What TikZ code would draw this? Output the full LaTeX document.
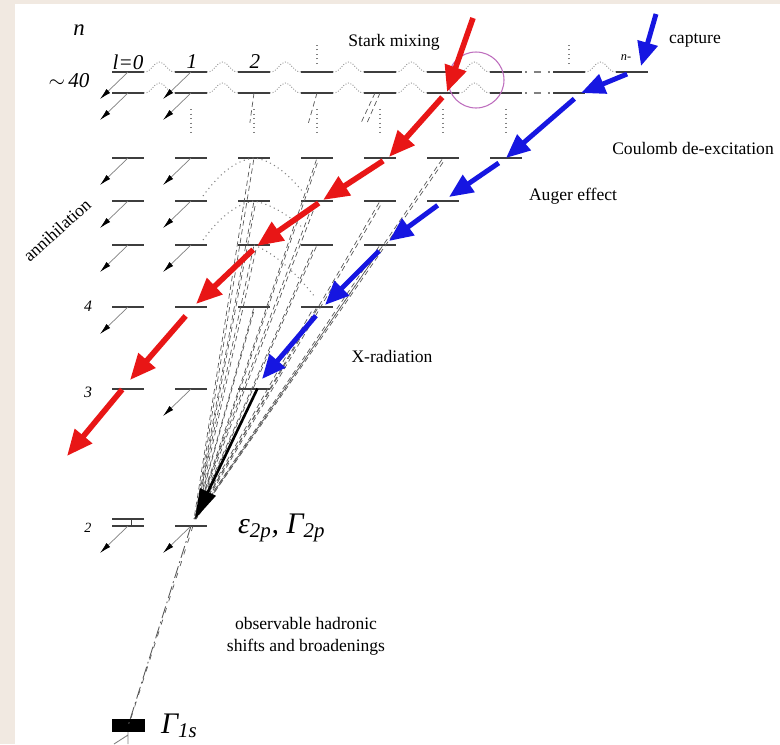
\documentclass[tikz,border=0pt]{standalone}
\usepackage{fontspec}
\setmainfont{Liberation Serif}
\usetikzlibrary{arrows.meta,calc}
\definecolor{beige}{RGB}{241,233,225}
\definecolor{levgray}{RGB}{62,62,62}
\definecolor{redarr}{RGB}{232,22,22}
\definecolor{bluearr}{RGB}{22,22,225}
\definecolor{mauve}{RGB}{190,110,190}
\definecolor{wavegray}{RGB}{140,140,140}

\begin{document}
\begin{tikzpicture}[x=0.02cm,y=-0.02cm,
 lev/.style={draw=levgray,line width=0.9pt},
 ann/.style={draw=gray,line width=0.4pt,-{Latex[length=2.3mm,width=1.1mm,color=black]}},
 ra/.style={draw=redarr,line width=3.2pt,-{Triangle[length=5.2mm,width=4.3mm]}},
 ba/.style={draw=bluearr,line width=2.8pt,-{Triangle[length=4.8mm,width=4mm]}},
 ka/.style={draw=black,line width=1.5pt,-{Triangle[length=6mm,width=3.4mm]}},
 xr/.style={draw=gray!70!black,line width=0.4pt,dash pattern=on 3pt off 2pt},
 wv/.style={draw=wavegray,line width=0.5pt,densely dotted},
 dt/.style={draw=gray,line width=0.6pt,dotted},
 lbl/.style={font=\fontsize{10}{12.5}\selectfont,align=center,inner sep=1pt},
 il/.style={font=\fontsize{#1}{#1}\selectfont\itshape,inner sep=1pt}]
\fill[beige] (0,0) rectangle (780,744);
\fill[white] (15,4) rectangle (780,744);
\useasboundingbox (0,0) rectangle (780,744);

% levels: two rows near n~40, then n=7 ... 1
\foreach \l in {0,...,8} \coordinate (u\l) at (128+63*\l,72);
\foreach \l in {0,...,7} \coordinate (w\l) at (128+63*\l,93);
\foreach \r/\y/\m in {7/158/6,6/201/5,5/245/4,4/307/3,3/389/2,2/526/1,1/726/0}
 \foreach \l in {0,...,\m} \coordinate (n\r l\l) at (128+63*\l,\y);
\foreach \l in {0,...,8} \draw[lev] ($(u\l)+(-16,0)$) -- ++(32,0);
\foreach \l in {0,...,7} \draw[lev] ($(w\l)+(-16,0)$) -- ++(32,0);
\foreach \r/\m in {7/6,6/5,5/4,4/3,3/2}
 \foreach \l in {0,...,\m} \draw[lev] ($(n\r l\l)+(-16,0)$) -- ++(32,0);
\draw[lev] ($(n2l1)+(-16,0)$) -- ++(32,0);
\draw[lev] ($(n2l0)+(-16,-7)$) -- ++(32,0) ($(n2l0)+(-16,0)$) -- ++(32,0);
\draw[levgray,line width=0.5pt] ($(n2l0)+(3,-7)$) -- ++(0,7);
\fill[black] ($(n1l0)+(-16,-7)$) rectangle ($(n1l0)+(17,6)$);
\draw[gray,line width=0.5pt] ($(n1l0)+(0,6)$) -- (128,744) ($(n1l0)+(0,9)$) -- (114,744);

% Stark mixing waves and continuation dots
\foreach \l in {0,...,5} \foreach \s in {u,w}
 \draw[wv] ($(\s\l)+(16,0)$) .. controls +(8,0) and +(-6,0) .. ($(\s\l)+(31.5,-10)$)
  .. controls +(6,0) and +(-8,0) .. ($(\s\l)+(47,0)$);
\draw[wv] ($(u7)+(16,0)$) .. controls +(8,0) and +(-6,0) .. ($(u7)+(31.5,-10)$)
 .. controls +(6,0) and +(-8,0) .. ($(u7)+(47,0)$);
\foreach \s in {u,w}
 \draw[gray,line width=0.6pt,dash pattern=on 1pt off 4pt on 4pt off 4pt] ($(\s6)+(19,0)$) -- ($(\s7)+(-19,0)$);
\foreach \l in {1,...,6} \draw[dt] ($(w\l)+(0,16)$) -- ++(0,26);
\foreach \l in {3,7} \draw[dt] ($(u\l)+(0,-8)$) -- ++(0,-22);
\coordinate (mix) at (476,80);
\draw[mauve,line width=0.6pt] (mix) circle[radius=0.56cm];

% annihilation
\foreach \c in {u0,w0,n7l0,n6l0,n5l0,n4l0,n2l0,u1,w1,n7l1,n6l1,n5l1,n3l1,n2l1} {
 \coordinate (\c a) at ($(\c)+(-28,27)$);
 \draw[ann] (\c) -- (\c a);}

% x-ray transitions to 2p
\coordinate (tp) at (195,519);
\foreach \c/\d in {n7l2/-3,n7l3/2,n7l5/3,n6l2/2,n6l3/-3,n6l4/3,n5l2/3,n5l3/-2,n5l4/3,n4l2/1,n4l3/-3} {
 \draw[xr,shorten <=1pt] (\c) -- (tp);
 \draw[xr,shorten <=3pt] ($(\c)+(\d,0)$) -- ($(tp)+(\d/3,0)$);}
\foreach \c in {w2,w3,w4} \draw[xr] (\c) -- ($(\c)!0.07!(tp)$);
\draw[xr] ($(w4)+(-5,0)$) -- ($(w4)!0.07!(tp)+(-6,0)$);
\draw[dt] (203,196) .. controls (222,170) and (238,160) .. (n7l2) .. controls (272,160) and (288,174) .. (303,192);
\draw[dt] (203,240) .. controls (222,214) and (238,204) .. (n6l2) .. controls (270,204) and (287,214) .. (303,228);
\draw[dt] (n5l2) .. controls (276,254) and (297,274) .. (315,297);
\draw[gray!70!black,line width=0.5pt,dash pattern=on 7pt off 2pt on 1pt off 2pt] (n2l1) -- (n1l0);
\draw[gray!70!black,line width=0.4pt,dash pattern=on 3pt off 4pt] ($(n2l1)+(2,0)$) -- ($(n1l0)+(3,-8)$);

% red cascade
\coordinate (r0) at (473,18);
\coordinate (r1) at (447,92);
\coordinate (r2) at (389,157);
\coordinate (r3) at (323,200);
\coordinate (r4) at (257,246);
\coordinate (r5) at (196,304);
\coordinate (r6) at (130,380);
\coordinate (r7) at (67,456);
\draw[ra] (r0) -- (r1);
\draw[ra,shorten <=4pt] (r1) -- (r2);
\draw[ra,shorten <=4pt] (r2) -- (r3);
\draw[ra,shorten <=3pt] (r3) -- (r4);
\draw[ra,shorten <=3pt] (r4) -- (r5);
\draw[ra,shorten <=9pt] (r5) -- (r6);
\draw[ra,shorten <=7pt] (r6) -- (r7);

% blue cascade
\coordinate (c0) at (656,14);
\coordinate (c1) at (641,66);
\coordinate (c3) at (581,93);
\coordinate (c4) at (506,158);
\coordinate (c5) at (449,197);
\coordinate (c6) at (389,241);
\coordinate (c7) at (325,305);
\coordinate (c8) at (262,379);
\draw[ba] (c0) -- (c1);
\draw[ba,shorten <=3pt] (u8) -- (c3);
\draw[ba,shorten <=5pt] (c3) -- (c4);
\draw[ba,shorten <=5pt] (c4) -- (c5);
\draw[ba,shorten <=8pt] (c5) -- (c6);
\draw[ba,shorten <=8pt] (c6) -- (c7);
\draw[ba,shorten <=8pt] (c7) -- (c8);
\draw[ka,shorten <=6pt] (c8) -- (tp);

% labels
\node[il=13] (nlab) at (79,30) {n};
\node[il=12] (l0) at (128,62) {l=0};
\node[il=12] (l1) at (192,62) {1};
\node[il=12] (l2) at (255,62) {2};
\node[font=\fontsize{12}{12}\selectfont,inner sep=1pt] (n40) at (69,81) {$\sim$\,\textit{40}};
\node[il=7] (nm) at (626,58) {n-};
\node[il=9] (n4) at (88,306) {4};
\node[il=9] (n3) at (88,392) {3};
\node[il=8] (n2) at (88,528) {2};
\node[lbl] (stark) at (394,42) {Stark mixing};
\node[lbl] (capt) at (695,40) {capture};
\node[lbl] (coul) at (693,148) {Coulomb de-excitation};
\node[lbl] (auger) at (573,196) {Auger effect};
\node[lbl] (xrad) at (392,356) {X-radiation};
\node[lbl] (obs) at (306,636) {observable hadronic\\shifts and broadenings};
\node[lbl,rotate=42] (annih) at (57,230) {annihilation};
\node[il=17,anchor=base west] (eps) at (236,533) {ε\textsubscript{2p}, Γ\textsubscript{2p}};
\node[il=17,anchor=base west] (g1s) at (159,733) {Γ\textsubscript{1s}};
\end{tikzpicture}
\end{document}
